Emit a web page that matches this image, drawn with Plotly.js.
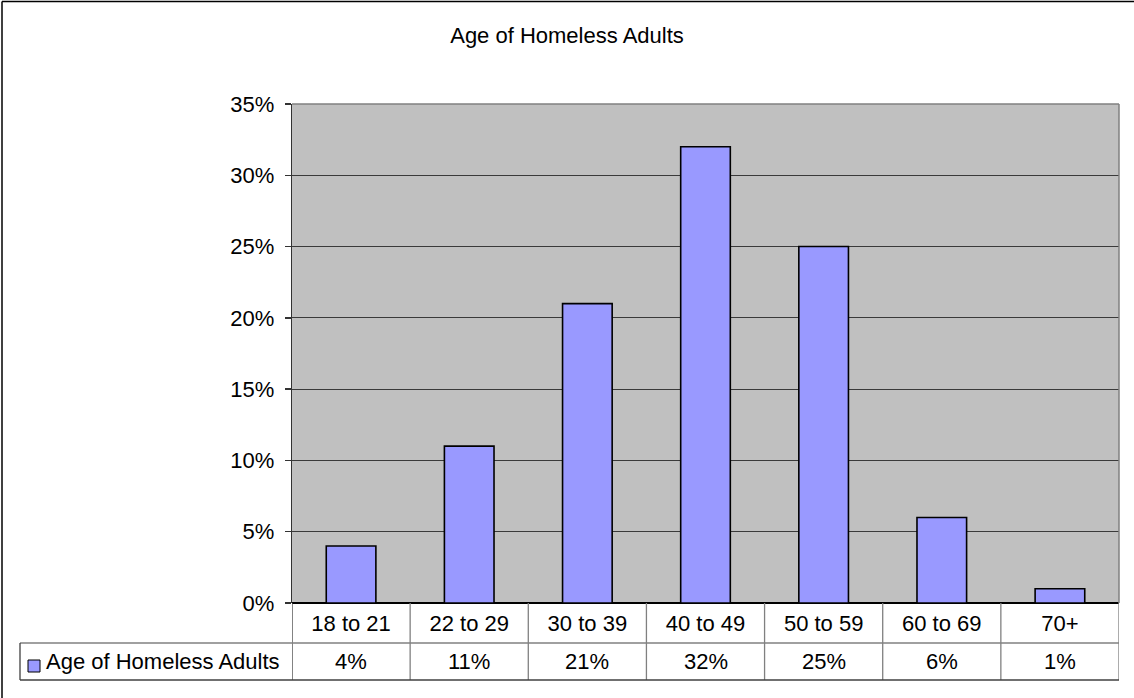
<!DOCTYPE html>
<html>
<head>
<meta charset="utf-8">
<script src="https://cdn.plot.ly/plotly-3.0.1.min.js"></script>
<style>html,body{margin:0;padding:0;background:#fff;}#chart{width:1134px;height:698px;}</style>
</head>
<body>
<div id="chart"></div>
<script>
var categories = ["18 to 21", "22 to 29", "30 to 39", "40 to 49", "50 to 59", "60 to 69", "70+"];
var values = [4, 11, 21, 32, 25, 6, 1];
var seriesName = "Age of Homeless Adults";
var chartTitle = "Age of Homeless Adults";
var yTicks = [0, 5, 10, 15, 20, 25, 30, 35];

var W = 1134, H = 698;
var L = 292, R = 1119, T = 104, B = 603;
var pw = R - L, ph = B - T;
function px(x) { return (x - L) / pw; }
function py(y) { return (B - y) / ph; }

var FONT = "Liberation Sans, Arial, sans-serif";
var FS = 22;
var barColor = "#9999FF";
var tableLine = "#808080";

var row1Bottom = 643, row2Bottom = 680, legendLeft = 20;

var shapes = [];
shapes.push({type: "line", xref: "paper", yref: "paper", x0: 0, x1: 1, y0: 1, y1: 1, line: {color: "#808080", width: 1.5}, layer: "above"});
shapes.push({type: "line", xref: "paper", yref: "paper", x0: 1, x1: 1, y0: 0, y1: 1, line: {color: "#808080", width: 1.5}, layer: "above"});
for (var i = 0; i <= categories.length; i++) {
  shapes.push({type: "line", xref: "x", yref: "paper", x0: i - 0.5, x1: i - 0.5, y0: 0, y1: py(row2Bottom), line: {color: i === 0 ? "#404040" : tableLine, width: 1.3}, layer: "above"});
}
shapes.push({type: "line", xref: "paper", yref: "paper", x0: px(legendLeft), x1: 1, y0: py(row1Bottom), y1: py(row1Bottom), line: {color: tableLine, width: 1.3}});
shapes.push({type: "line", xref: "paper", yref: "paper", x0: px(legendLeft), x1: 1, y0: py(row2Bottom), y1: py(row2Bottom), line: {color: "#404040", width: 1.3}});
shapes.push({type: "line", xref: "paper", yref: "paper", x0: px(legendLeft), x1: px(legendLeft), y0: py(row1Bottom), y1: py(row2Bottom), line: {color: "#404040", width: 1.3}});
shapes.push({type: "rect", xref: "paper", yref: "paper", x0: px(28), x1: px(40), y0: py(672), y1: py(660), fillcolor: barColor, line: {color: "#000", width: 1}});
shapes.push({type: "line", xref: "paper", yref: "paper", x0: px(2), x1: px(2), y0: py(1.5), y1: py(H + 5), line: {color: "#000", width: 1.5}});
shapes.push({type: "line", xref: "paper", yref: "paper", x0: px(2), x1: px(W + 5), y0: py(1.5), y1: py(1.5), line: {color: "#000", width: 1.5}});

var annotations = [];
for (var j = 0; j < categories.length; j++) {
  annotations.push({xref: "x", yref: "paper", x: categories[j], y: py((row1Bottom + row2Bottom) / 2), text: values[j] + "%", showarrow: false, xanchor: "center", yanchor: "middle", font: {family: FONT, size: FS, color: "#000"}});
}
annotations.push({xref: "paper", yref: "paper", x: px(44), y: py((row1Bottom + row2Bottom) / 2), text: seriesName, showarrow: false, xanchor: "left", yanchor: "middle", font: {family: FONT, size: FS, color: "#000"}});

var trace = {
  type: "bar",
  x: categories,
  y: values,
  name: seriesName,
  width: 0.42,
  marker: {color: barColor, line: {color: "#000", width: 1.6}},
  hoverinfo: "skip"
};

var layout = {
  width: W, height: H,
  margin: {l: L, r: W - R, t: T, b: H - B, pad: 0},
  paper_bgcolor: "#ffffff",
  plot_bgcolor: "#C0C0C0",
  showlegend: false,
  title: {text: chartTitle, x: 0.5, xref: "container", xanchor: "center", y: 1 - 35 / H, yref: "container", yanchor: "middle", font: {family: FONT, size: FS, color: "#000"}},
  xaxis: {
    type: "category",
    categoryorder: "array",
    categoryarray: categories,
    range: [-0.5, categories.length - 0.5],
    showgrid: false,
    zeroline: false,
    showline: false,
    ticks: "",
    tickfont: {family: FONT, size: FS, color: "#000"},
    ticklabelstandoff: 5,
    fixedrange: true
  },
  yaxis: {
    range: [0, 35],
    tickvals: yTicks,
    ticktext: yTicks.map(function (v) { return v + "%"; }),
    showgrid: true,
    gridcolor: "#3a3a3a",
    gridwidth: 1,
    zeroline: true,
    zerolinecolor: "#000",
    zerolinewidth: 1.5,
    showline: true,
    linecolor: "#333",
    linewidth: 1.3,
    ticks: "outside",
    ticklen: 6,
    tickcolor: "#333",
    tickwidth: 1.3,
    ticklabelstandoff: 6,
    tickfont: {family: FONT, size: FS, color: "#000"},
    fixedrange: true
  },
  shapes: shapes,
  annotations: annotations
};

Plotly.newPlot("chart", [trace], layout, {displayModeBar: false, staticPlot: true});
</script>
</body>
</html>
